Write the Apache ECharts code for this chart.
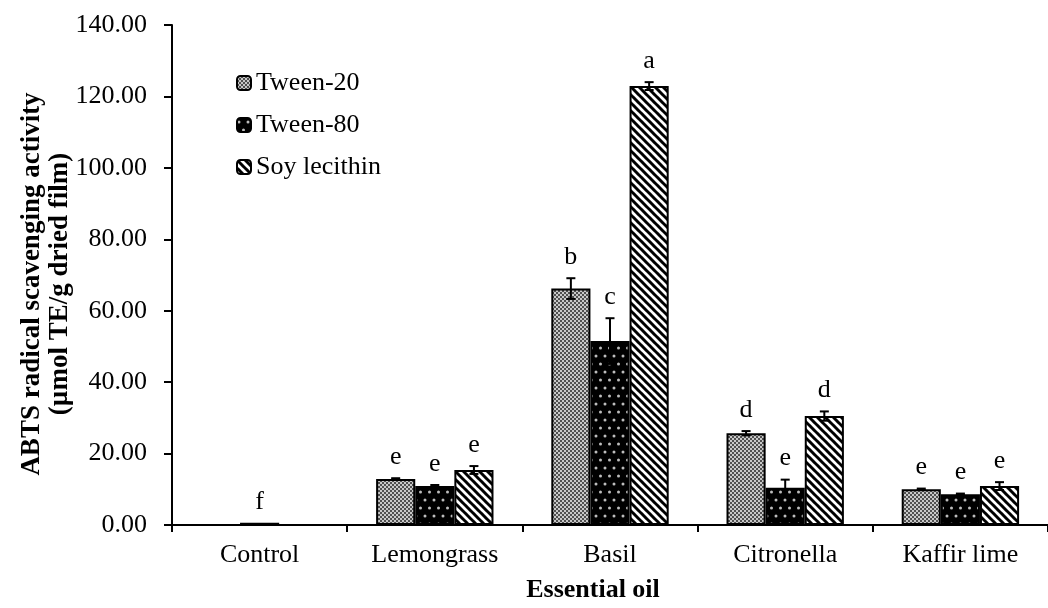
<!DOCTYPE html>
<html>
<head>
<meta charset="utf-8">
<script src="https://cdn.jsdelivr.net/npm/echarts@6/dist/echarts.min.js"></script>
<style>html,body{margin:0;padding:0;background:#fff}#c{width:1048px;height:608px}</style>
</head>
<body>
<div id="c"></div>
<script>
const categories = ['Control', 'Lemongrass', 'Basil', 'Citronella', 'Kaffir lime'];
const seriesNames = ['Tween-20', 'Tween-80', 'Soy lecithin'];
const tween20 = [null, 12.9, 66.2, 25.7, 10.0];
const tween80 = [0.6, 10.9, 51.5, 10.4, 8.6];
const soy = [null, 15.4, 122.9, 30.5, 10.9];
const tween20Err = [0, 0.2, 2.9, 0.6, 0.2];
const tween80Err = [0, 0.3, 6.4, 2.3, 0.2];
const soyErr = [0, 1.1, 1.1, 1.3, 1.1];
const tween20Letters = ['', 'e', 'b', 'd', 'e'];
const tween80Letters = ['f', 'e', 'c', 'e', 'e'];
const soyLetters = ['', 'e', 'a', 'd', 'e'];
const yTicks = [0, 20, 40, 60, 80, 100, 120, 140];

const FONT = "'Liberation Serif', 'Times New Roman', serif";
const CAT_GAP = 0.33;

function makeTile(w, h, draw) {
  const c = document.createElement('canvas');
  c.width = w; c.height = h;
  const ctx = c.getContext('2d');
  draw(ctx, w, h);
  return c;
}
// Tween-20: fine grey checker
const pat20 = makeTile(4, 4, (ctx) => {
  ctx.fillStyle = '#c8c8c8'; ctx.fillRect(0, 0, 4, 4);
  ctx.fillStyle = '#505050';
  ctx.fillRect(0, 0, 2, 2); ctx.fillRect(2, 2, 2, 2);
});
// Tween-80: black with light dots
const pat80 = makeTile(9, 16, (ctx) => {
  ctx.fillStyle = '#000'; ctx.fillRect(0, 0, 9, 16);
  ctx.fillStyle = '#bdbdbd';
  ctx.beginPath(); ctx.arc(2, 4, 1.5, 0, Math.PI * 2); ctx.fill();
  ctx.beginPath(); ctx.arc(6.5, 12, 1.5, 0, Math.PI * 2); ctx.fill();
});
// Soy lecithin: diagonal stripes
const patSoy = makeTile(8, 8, (ctx) => {
  ctx.fillStyle = '#fff'; ctx.fillRect(0, 0, 8, 8);
  ctx.strokeStyle = '#000'; ctx.lineWidth = 3;
  for (const x0 of [-8, 0, 8]) {
    ctx.beginPath(); ctx.moveTo(x0 - 1, -1); ctx.lineTo(x0 + 9, 9); ctx.stroke();
  }
});
const patterns = [pat20, pat80, patSoy];
const values = [tween20, tween80, soy];
const errs = [tween20Err, tween80Err, soyErr];
const letters = [tween20Letters, tween80Letters, soyLetters];

const barSeries = seriesNames.map((name, s) => ({
  name: name,
  type: 'bar',
  data: values[s],
  barGap: '0%',
  barCategoryGap: (CAT_GAP * 100) + '%',
  itemStyle: {
    color: { image: patterns[s], repeat: 'repeat' },
    borderColor: '#000',
    borderWidth: 2
  },
  emphasis: { disabled: true },
  z: 2
}));

const errData = [];
const errLetters = [];
for (let s = 0; s < 3; s++) {
  for (let i = 0; i < categories.length; i++) {
    if (values[s][i] == null) continue;
    errData.push([i, values[s][i], errs[s][i], s]);
    errLetters.push(letters[s][i]);
  }
}

const errSeries = {
  type: 'custom',
  name: 'err',
  data: errData,
  z: 5,
  silent: true,
  encode: { x: 0, y: 1 },
  renderItem: function (params, api) {
    const cat = api.value(0), val = api.value(1), err = api.value(2), s = api.value(3);
    const band = api.size([1, 0])[0];
    const barW = band * (1 - CAT_GAP) / 3;
    const cx = api.coord([cat, 0])[0] + (s - 1) * barW;
    const yTop = api.coord([cat, val + err])[1];
    const yBot = api.coord([cat, val - err])[1];
    const children = [];
    if (err > 0) {
      const st = { stroke: '#000', lineWidth: 2 };
      children.push({ type: 'line', shape: { x1: cx, y1: yTop, x2: cx, y2: yBot }, style: st });
      children.push({ type: 'line', shape: { x1: cx - 4.5, y1: yTop, x2: cx + 4.5, y2: yTop }, style: st });
      children.push({ type: 'line', shape: { x1: cx - 4.5, y1: yBot, x2: cx + 4.5, y2: yBot }, style: st });
    }
    const letter = errLetters[params.dataIndex];
    if (letter) {
      children.push({
        type: 'text',
        x: cx, y: yTop - 21,
        style: { text: letter, font: '26px ' + FONT, fill: '#000', align: 'center', verticalAlign: 'middle' }
      });
    }
    return { type: 'group', children: children };
  }
};

const chart = echarts.init(document.getElementById('c'), null, { renderer: 'canvas' });
chart.setOption({
  backgroundColor: '#fff',
  animation: false,
  textStyle: { fontFamily: FONT, color: '#000' },
  grid: { left: 172, right: -9, top: 25, bottom: 78, containLabel: false },
  legend: {
    orient: 'vertical',
    left: 231, top: 65,
    itemWidth: 14, itemHeight: 14,
    itemGap: 16,
    itemTextGap: 6,
    data: seriesNames,
    textStyle: { fontSize: 26, fontFamily: FONT, color: '#000' }
  },
  xAxis: {
    type: 'category',
    data: categories,
    axisLine: { lineStyle: { color: '#000', width: 2 } },
    axisTick: { show: true, length: 7, alignWithLabel: false, lineStyle: { color: '#000', width: 2 } },
    axisLabel: { fontSize: 26, fontFamily: FONT, color: '#000', margin: 17 },
    name: 'Essential oil',
    nameLocation: 'middle',
    nameGap: 52,
    nameMoveOverlap: false,
    nameTextStyle: { fontSize: 26, fontWeight: 'bold', fontFamily: FONT, color: '#000', padding: [0, 34, 0, 0] }
  },
  yAxis: {
    type: 'value',
    min: 0, max: 140, interval: 20,
    axisLine: { show: true, lineStyle: { color: '#000', width: 2 } },
    axisTick: { show: true, length: 8, lineStyle: { color: '#000', width: 2 } },
    splitLine: { show: false },
    axisLabel: {
      fontSize: 26, fontFamily: FONT, color: '#000', margin: 25,
      formatter: (v) => yTicks.includes(v) ? v.toFixed(2) : ''
    },
    name: 'ABTS radical scavenging activity\n(µmol TE/g dried film)',
    nameLocation: 'middle',
    nameGap: 98,
    nameMoveOverlap: false,
    nameTextStyle: { fontSize: 27, fontWeight: 'bold', fontFamily: FONT, color: '#000', lineHeight: 28, padding: [0, 18, 0, 0] }
  },
  series: barSeries.concat([errSeries])
});
</script>
</body>
</html>
